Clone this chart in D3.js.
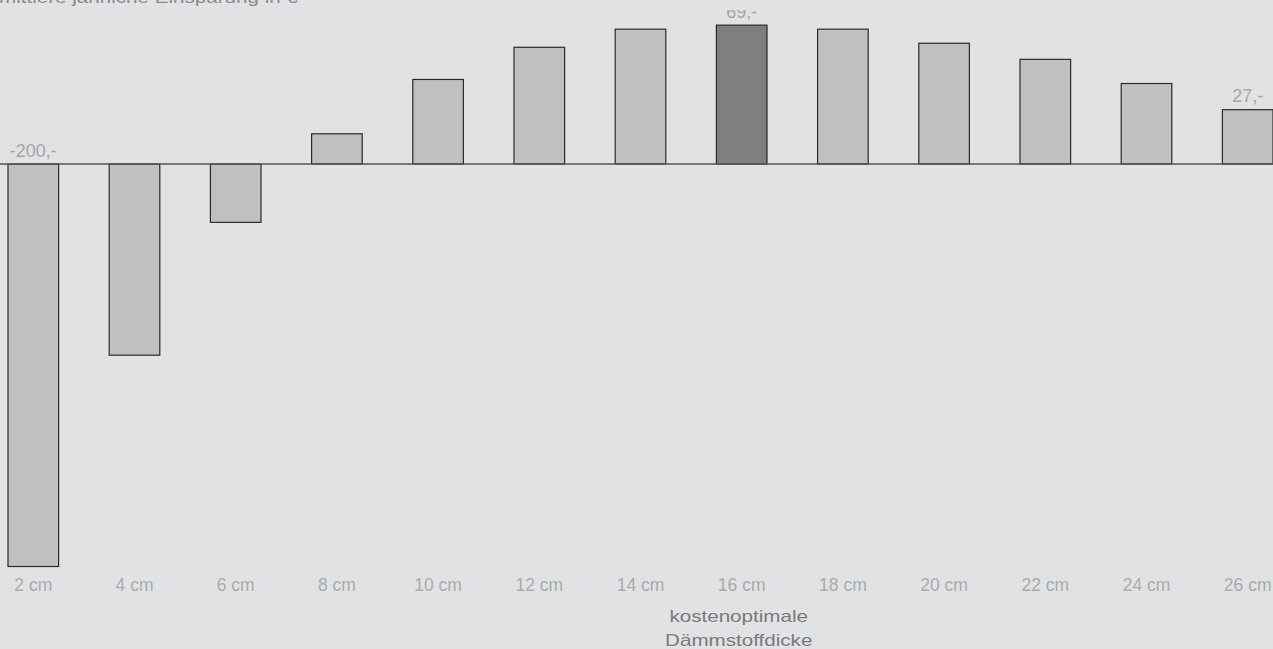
<!DOCTYPE html>
<html lang="de">
	<head>
		<meta charset="utf-8">
		<title>Einsparung je Dämmstoffdicke</title>
		<script src="https://d3js.org/d3.v7.min.js"></script>
	</head>
	<style type="text/css">
	body {
	    margin: 0;
	    background: #e1e2e4;
	    overflow: hidden;
	}
	text {
	    font-family: "Liberation Sans", Arial, sans-serif;
	}
	</style>

	<body>
	<script>
        // Dämmstoffdicke und mittlere jährliche Einsparung (Euro)
        const thickness = ["2 cm", "4 cm", "6 cm", "8 cm", "10 cm", "12 cm", "14 cm",
                           "16 cm", "18 cm", "20 cm", "22 cm", "24 cm", "26 cm"]
        const savings = [-200, -95, -29, 15, 42, 58, 67, 69, 67, 60, 52, 40, 27]
        const labelled = ["2 cm", "16 cm", "26 cm"]
        const optimum = "16 cm"
        const yTitle = "mittlere jährliche Einsparung in €"
        const noteLines = ["kostenoptimale", "Dämmstoffdicke"]

        const SvgWidth = 1273
        const SvgHeight = 649
        const zeroY = 164
        const bottomY = 566.5

        const svg = d3.select("body").append("svg")
                    .attr("width", SvgWidth)
                    .attr("height", SvgHeight)

        svg.append("rect")
            .attr("width", SvgWidth)
            .attr("height", SvgHeight)
            .style("fill", "#e1e2e4")

        // plot area is clipped a little below the top edge
        svg.append("clipPath")
            .attr("id", "plotClip")
            .append("rect")
            .attr("x", 0)
            .attr("y", 10)
            .attr("width", SvgWidth)
            .attr("height", SvgHeight - 10);

        var xScale = d3.scaleBand()
            .domain(thickness)
            .range([8, 1273])
            .paddingInner(0.5)
            .paddingOuter(0);

        var yScale = d3.scaleLinear()
            .domain([d3.min(savings), 0])
            .range([bottomY, zeroY]);

        const data = thickness.map(function(t, i){ return {cm: t, value: savings[i]}; });

        // Balken
        svg.selectAll(".bar")
            .data(data)
            .enter().append("rect")
            .attr("class", "bar")
            .attr("x", function(d){ return xScale(d.cm); })
            .attr("y", function(d){ return Math.min(yScale(d.value), yScale(0)); })
            .attr("width", xScale.bandwidth())
            .attr("height", function(d){ return Math.abs(yScale(d.value) - yScale(0)); })
            .attr("fill", function(d){ return d.cm == optimum ? "#7f7f7f" : "#c0c0c0"; })
            .attr("stroke", "#2a2a2a")
            .attr("stroke-width", 1.2);

        // Nulllinie
        svg.append("line")
            .attr("x1", 0)
            .attr("x2", SvgWidth)
            .attr("y1", yScale(0))
            .attr("y2", yScale(0))
            .attr("stroke", "#555")
            .attr("stroke-width", 1.6);

        // Werte an ausgewählten Balken
        svg.append("g")
            .attr("clip-path", "url(#plotClip)")
            .selectAll(".value")
            .data(data.filter(function(d){ return labelled.indexOf(d.cm) >= 0; }))
            .enter().append("text")
            .attr("class", "value")
            .attr("x", function(d){ return xScale(d.cm) + xScale.bandwidth() / 2; })
            .attr("y", function(d){ return Math.min(yScale(d.value), yScale(0)) - 7.5; })
            .attr("text-anchor", "middle")
            .attr("fill", "#a6a6a6")
            .style("font-size", "18px")
            .text(function(d){ return d.value + ",-"; });

        // x-Achse ohne Linie, nur Beschriftung
        const xAxis = svg.append("g")
            .attr("transform", "translate(0," + 575 + ")")
            .call(d3.axisBottom(xScale).tickSize(0).tickPadding(0));
        xAxis.select(".domain").remove();
        xAxis.selectAll("text")
            .attr("dy", "0.9em")
            .attr("fill", "#ababab")
            .style("font-size", "17.5px")
            .style("font-family", "'Liberation Sans', Arial, sans-serif");

        // Achsentitel oben links (abgeschnitten wie im Original)
        svg.append("text")
            .attr("transform", "translate(-1,2.5) scale(1.25,1)")
            .attr("fill", "#8a8a8a")
            .style("font-size", "16.5px")
            .text(yTitle);

        // Hinweis unter dem optimalen Balken
        const noteX = xScale(optimum) + xScale.bandwidth() / 2;
        svg.selectAll(".note")
            .data(noteLines)
            .enter().append("text")
            .attr("class", "note")
            .attr("transform", function(d, i){ return "translate(" + (noteX - 3) + "," + (621.5 + i * 24) + ") scale(1.25,1)"; })
            .attr("text-anchor", "middle")
            .attr("fill", "#7a7a7a")
            .style("font-size", "16.5px")
            .text(function(d){ return d; });
	</script>
    </body>
</html>
